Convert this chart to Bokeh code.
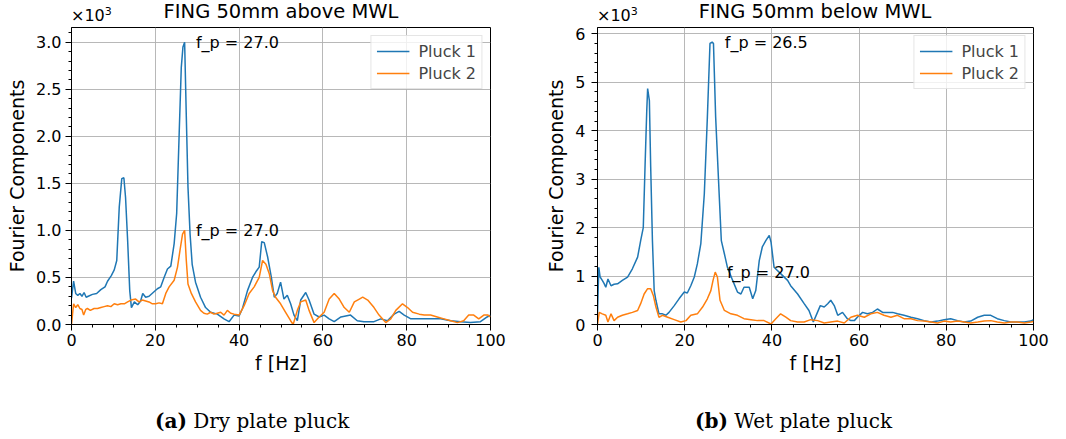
from bokeh.plotting import figure
from bokeh.models import Range1d, SingleIntervalTicker, NumeralTickFormatter, ColumnDataSource, Div
from bokeh.layouts import row, column
from bokeh.core.properties import value
from bokeh.embed import file_html
from bokeh.resources import INLINE

# ---------------- data (values in units of 10^3) ----------------
a1_f = [0, 0.5, 1, 1.5, 2, 2.5, 3, 3.5, 4, 5,
        6, 7, 8, 8.6, 9.5, 10.2, 10.8, 11.4, 12, 12.5,
        12.9, 13.4, 13.9, 14.3, 15, 15.8, 16.5, 17, 17.7, 18.5,
        19.5, 20.5, 21.3, 22.1, 22.9, 23.7, 24.5, 25.1, 25.7, 26.2,
        26.6, 27.0, 27.4, 27.8, 28.3, 28.8, 29.6, 30.8, 32, 33.2,
        34.8, 36.4, 37.6, 38.8, 40, 40.8, 42, 43.2, 44, 44.8,
        45.4, 46, 46.8, 47.7, 48.4, 49.1, 49.9, 50.7, 51.5, 52.3,
        53.1, 53.9, 54.7, 55.9, 56.7, 57.9, 59.1, 60.3, 61.5, 62.7,
        64.3, 66.6, 68.2, 69.8, 72.2, 73.8, 75.4, 77, 78.2, 79.4,
        81, 83.4, 85.7, 88.1, 90.5, 92.9, 95.2, 97.6, 99.2, 100]
a1_v = [0.28, 0.46, 0.33, 0.31, 0.33, 0.30, 0.34, 0.29, 0.30, 0.32,
        0.33, 0.37, 0.40, 0.46, 0.52, 0.58, 0.68, 1.25, 1.55, 1.56,
        1.35, 0.89, 0.36, 0.18, 0.24, 0.21, 0.25, 0.33, 0.29, 0.30,
        0.34, 0.38, 0.40, 0.50, 0.59, 0.62, 0.86, 1.18, 2.03, 2.73,
        2.95, 3.00, 2.21, 1.46, 0.96, 0.64, 0.45, 0.29, 0.18, 0.13,
        0.11, 0.06, 0.03, 0.10, 0.09, 0.17, 0.36, 0.50, 0.56, 0.61,
        0.88, 0.87, 0.72, 0.50, 0.29, 0.33, 0.45, 0.27, 0.31, 0.22,
        0.10, 0.04, 0.26, 0.34, 0.26, 0.11, 0.08, 0.10, 0.06, 0.03,
        0.08, 0.10, 0.04, 0.03, 0.03, 0.06, 0.04, 0.11, 0.14, 0.10,
        0.06, 0.06, 0.06, 0.06, 0.04, 0.03, 0.02, 0.03, 0.08, 0.10]

a2_f = [0, 0.5, 1, 1.5, 2, 2.5, 2.9, 3.4, 3.8, 4.5,
        5.4, 6.2, 7, 7.8, 8.6, 9.4, 10.2, 11, 11.8, 12.6,
        13.4, 14.2, 15.3, 16.1, 16.9, 17.7, 18.5, 19.3, 20.1, 20.9,
        21.7, 22.5, 23.3, 24.5, 25.3, 25.9, 26.5, 27.0, 27.4, 27.8,
        28.6, 29.6, 30.8, 31.6, 32.4, 33.2, 34, 34.8, 35.6, 36.4,
        37.2, 38, 38.8, 40, 41.2, 42.4, 43.6, 44.8, 45.6, 46.4,
        47.2, 48, 48.7, 49.9, 51.1, 52.3, 52.9, 53.9, 54.7, 55.9,
        56.7, 57.9, 59.1, 60.3, 61.5, 62.7, 63.9, 65.1, 66.3, 67.5,
        68.7, 69.5, 70.7, 72.2, 73.4, 75, 76.2, 77.4, 79, 80.2,
        81.4, 83, 84.2, 85.7, 87.3, 88.9, 90.5, 92.1, 93.6, 94.8,
        96, 97.2, 98.4, 99.4, 100]
a2_v = [0.0, 0.22, 0.18, 0.21, 0.17, 0.16, 0.10, 0.16, 0.17, 0.15,
        0.17, 0.17, 0.18, 0.19, 0.20, 0.19, 0.22, 0.21, 0.22, 0.22,
        0.24, 0.26, 0.27, 0.24, 0.26, 0.25, 0.24, 0.22, 0.22, 0.23,
        0.22, 0.33, 0.40, 0.47, 0.61, 0.79, 0.96, 1.00, 0.68, 0.43,
        0.33, 0.24, 0.15, 0.12, 0.11, 0.13, 0.11, 0.12, 0.13, 0.10,
        0.15, 0.12, 0.11, 0.10, 0.20, 0.33, 0.40, 0.50, 0.68, 0.64,
        0.54, 0.36, 0.29, 0.22, 0.13, 0.04, 0.00, 0.15, 0.24, 0.26,
        0.15, 0.02, 0.08, 0.13, 0.27, 0.33, 0.27, 0.18, 0.13, 0.24,
        0.27, 0.29, 0.26, 0.18, 0.10, 0.02, 0.06, 0.15, 0.22, 0.18,
        0.13, 0.11, 0.10, 0.10, 0.08, 0.06, 0.04, 0.02, 0.04, 0.10,
        0.10, 0.06, 0.10, 0.10, 0.08]

b1_f = [0, 0.3, 0.6, 1.1, 1.5, 1.9, 2.4, 3.1, 3.8, 4.6,
        5.7, 6.9, 8.0, 9.2, 9.9, 10.5, 10.9, 11.3, 11.5, 11.9,
        12.2, 12.6, 13.0, 13.4, 14.1, 14.9, 15.7, 16.4, 17.6, 18.7,
        19.9, 20.6, 21.4, 22.2, 22.9, 23.7, 24.5, 25.2, 25.8, 26.3,
        26.6, 27.1, 27.9, 28.4, 29.1, 29.8, 31, 32.1, 32.9, 33.6,
        34.8, 35.6, 36.3, 37.1, 37.8, 38.6, 39.4, 39.8, 40.5, 42,
        43.6, 44.3, 45.9, 47.4, 48.5, 49.5, 50.3, 51.1, 52, 52.8,
        53.5, 54.3, 55.1, 56.2, 57.3, 58.1, 58.9, 59.6, 60.8, 61.9,
        63.1, 64.2, 65.4, 66.5, 67.7, 68.8, 70.3, 71.9, 73.4, 74.9,
        76.5, 78, 79.5, 81, 82.6, 84.1, 85.6, 87.2, 88.7, 90.2,
        91.7, 93.3, 94.8, 96.3, 97.9, 99.4, 100]
b1_v = [0.2, 1.18, 0.98, 0.91, 0.85, 0.77, 0.94, 0.80, 0.83, 0.84,
        0.91, 0.98, 1.15, 1.39, 1.73, 2.0, 3.25, 4.42, 4.87, 4.62,
        3.25, 1.73, 0.70, 0.50, 0.22, 0.22, 0.19, 0.25, 0.39, 0.53,
        0.67, 0.65, 0.80, 0.98, 1.25, 1.67, 2.70, 4.28, 5.80, 5.83,
        5.80, 4.28, 2.70, 1.73, 1.46, 1.18, 0.91, 0.67, 0.63, 0.77,
        0.77, 0.53, 0.70, 1.32, 1.60, 1.73, 1.84, 1.70, 1.18, 1.05,
        0.91, 0.80, 0.63, 0.43, 0.29, 0.05, 0.22, 0.39, 0.36, 0.43,
        0.50, 0.39, 0.19, 0.25, 0.12, 0.08, 0.08, 0.15, 0.25, 0.22,
        0.25, 0.32, 0.25, 0.25, 0.25, 0.22, 0.19, 0.15, 0.12, 0.08,
        0.05, 0.07, 0.10, 0.12, 0.08, 0.05, 0.07, 0.15, 0.19, 0.19,
        0.12, 0.08, 0.05, 0.05, 0.05, 0.07, 0.10]

b2_f = [0, 0.4, 1.1, 1.9, 2.4, 3.1, 3.8, 4.6, 5.7, 6.9,
        8.0, 9.2, 9.9, 10.7, 11.5, 12.2, 12.8, 13.4, 14.1, 14.9,
        16.1, 17.6, 19.1, 20.3, 21.4, 22.9, 24.1, 25.2, 26, 26.5,
        27, 27.5, 28.1, 29.1, 30.6, 32.1, 33.6, 35.2, 36.7, 38.2,
        39.8, 40.9, 42, 43.2, 44.3, 45.9, 47.4, 48.9, 50.5, 52,
        53.5, 55.1, 56.6, 58.1, 59.6, 61.2, 62.7, 64.2, 65.7, 67.3,
        68.8, 70.3, 71.9, 73.4, 74.9, 76.5, 78, 79.5, 81, 82.6,
        84.1, 85.6, 87.2, 88.7, 90.2, 91.7, 93.3, 94.8, 96.3, 97.9,
        99.4, 100]
b2_v = [0.0, 0.25, 0.22, 0.19, 0.05, 0.22, 0.08, 0.15, 0.19, 0.22,
        0.25, 0.29, 0.43, 0.63, 0.74, 0.74, 0.60, 0.36, 0.15, 0.19,
        0.15, 0.10, 0.05, 0.08, 0.19, 0.22, 0.36, 0.53, 0.70, 0.91,
        1.08, 0.98, 0.50, 0.29, 0.22, 0.19, 0.12, 0.10, 0.08, 0.08,
        0.01, 0.12, 0.22, 0.15, 0.08, 0.05, 0.05, 0.10, 0.08, 0.03,
        0.05, 0.07, 0.03, 0.15, 0.19, 0.15, 0.22, 0.25, 0.19, 0.15,
        0.19, 0.12, 0.12, 0.08, 0.07, 0.05, 0.03, 0.07, 0.05, 0.07,
        0.05, 0.03, 0.05, 0.07, 0.08, 0.05, 0.03, 0.05, 0.05, 0.03,
        0.05, 0.06]

a_peak_f = [27.0, 27.0]
a_peak_v = [3.00, 1.00]
b_peak_f = [26.5, 27.0]
b_peak_v = [5.83, 1.07]

series_names = ["Pluck 1", "Pluck 2"]
titles = ["FING 50mm above MWL", "FING 50mm below MWL"]
caption_tags = ["(a)", "(b)"]
caption_texts = ["Dry plate pluck", "Wet plate pluck"]
x_label = "f [Hz]"
y_label = "Fourier Components"
exp_label = "\u00d710<sup style='font-size:11px'>3</sup>"

BLUE = "#1f77b4"
ORANGE = "#ff7f0e"
FONT = "DejaVu Sans"
SERIF = "DejaVu Serif"

TOP_H = 25          # height of the title strip
FIG_H = 355         # figure height (frame 297 px)
BOT_H = 59          # caption strip


def make_panel(fA, vA, fB, vB, pk_f, pk_v, ymax, ytick, yfmt,
               width, left, right, ylab_standoff):
    p = figure(width=width, height=FIG_H, output_backend="svg",
               toolbar_location=None, x_range=Range1d(0, 100),
               y_range=Range1d(0, ymax),
               min_border_left=left, min_border_right=right,
               min_border_top=2, min_border_bottom=56)
    p.background_fill_color = "white"
    p.border_fill_color = "white"
    p.outline_line_color = "black"
    p.outline_line_width = 1
    p.outline_line_alpha = 1

    p.line(fA, vA, line_color=BLUE, line_width=1.5, legend_label=series_names[0])
    p.line(fB, vB, line_color=ORANGE, line_width=1.5, legend_label=series_names[1])

    src = ColumnDataSource(dict(x=[f + 2.7 for f in pk_f], y=pk_v,
                                t=["f_p = %.1f" % f for f in pk_f]))
    p.text(x="x", y="y", text="t", source=src, text_font=value(FONT),
           text_font_size="16px", text_baseline="alphabetic", text_align="left",
           text_color="black")

    p.xaxis.ticker = SingleIntervalTicker(interval=20, num_minor_ticks=4)
    p.yaxis.ticker = SingleIntervalTicker(interval=ytick, num_minor_ticks=5)
    p.yaxis.formatter = NumeralTickFormatter(format=yfmt)
    for ax in (p.xaxis[0], p.yaxis[0]):
        ax.axis_line_color = "black"
        ax.major_tick_line_color = "black"
        ax.minor_tick_line_color = "black"
        ax.major_tick_out = 6
        ax.major_tick_in = 0
        ax.minor_tick_out = 3
        ax.minor_tick_in = 0
        ax.major_label_text_font = FONT
        ax.major_label_text_font_size = "16px"
        ax.major_label_text_color = "black"
        ax.axis_label_text_font = FONT
        ax.axis_label_text_font_size = "19px"
        ax.axis_label_text_font_style = "normal"
        ax.axis_label_text_color = "black"
    p.xaxis.axis_label = x_label
    p.yaxis.axis_label = y_label
    p.xaxis.major_label_standoff = 3
    p.xaxis.axis_label_standoff = 3
    p.yaxis.major_label_standoff = ylab_standoff
    p.yaxis.axis_label_standoff = 5

    p.grid.grid_line_color = "#b0b0b0"
    p.grid.grid_line_width = 1
    p.grid.grid_line_alpha = 0.9

    lg = p.legend[0]
    lg.location = "top_right"
    lg.margin = 8
    lg.padding = 5
    lg.spacing = 2
    lg.glyph_width = 33
    lg.glyph_height = 20
    lg.label_height = 20
    lg.label_standoff = 9
    lg.label_text_font = FONT
    lg.label_text_font_size = "16px"
    lg.border_line_color = "#cccccc"
    lg.border_line_width = 1
    lg.background_fill_alpha = 0.8
    return p


p1 = make_panel(a1_f, a1_v, a2_f, a2_v, a_peak_f, a_peak_v, 3.156, 0.5, "0.0",
                width=533, left=71, right=43, ylab_standoff=4)
p2 = make_panel(b1_f, b1_v, b2_f, b2_v, b_peak_f, b_peak_v, 6.13, 1, "0",
                width=517, left=64, right=17, ylab_standoff=6)


def abs_text(html, left, top, size, font, width=None, align="left"):
    w = "width:%dpx;text-align:%s;" % (width, align) if width else ""
    return ("<div style=\"position:absolute;left:%dpx;top:%.1fpx;%sfont-family:'%s';"
            "font-size:%spx;line-height:1;color:black;white-space:nowrap;\">%s</div>"
            % (left, top, w, font, size, html))


top_html = ("<div style='position:relative;width:1050px;height:%dpx;'>" % TOP_H
            + abs_text(titles[0], 131, 1.5, 19.5, FONT, width=300, align="center")
            + abs_text(titles[1], 665, 1.5, 19.5, FONT, width=300, align="center")
            + abs_text(exp_label, 71, 6, 16, FONT)
            + abs_text(exp_label, 597, 6, 16, FONT)
            + "</div>")
bot_html = ("<div style='position:relative;width:1050px;height:%dpx;'>" % BOT_H
            + abs_text("<b>%s</b> %s" % (caption_tags[0], caption_texts[0]), 155, 31, 20, SERIF)
            + abs_text("<b>%s</b> %s" % (caption_tags[1], caption_texts[1]), 695, 31, 20, SERIF)
            + "</div>")

top_div = Div(text=top_html, width=1050, height=TOP_H, margin=0)
bot_div = Div(text=bot_html, width=1050, height=BOT_H, margin=0)

layout = column(top_div, row(p1, p2), bot_div)
open("out.html", "w").write(file_html(layout, INLINE))
